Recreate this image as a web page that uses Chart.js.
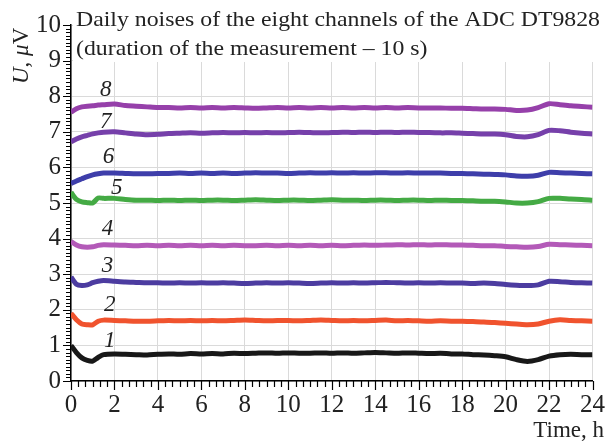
<!DOCTYPE html>
<html><head><meta charset="utf-8">
<script src="https://cdn.jsdelivr.net/npm/chart.js@4.4.1/dist/chart.umd.min.js"></script>
<style>html,body{margin:0;padding:0;background:#fff;overflow:hidden}#wrap{width:614px;height:441px;position:relative}</style>
</head><body><div id="wrap"><canvas id="c" width="614" height="441"></canvas></div>
<script>
// ---- data ----
const times = [0,0.25,0.5,0.75,1,1.25,1.5,2,2.5,3,3.5,4,4.5,5,5.5,6,6.5,7,7.5,8,8.5,9,9.5,10,10.5,11,11.5,12,12.5,13,13.5,14,14.5,15,15.5,16,16.5,17,17.5,18,18.5,19,19.5,20,20.5,21,21.5,22,22.5,23,23.5,24];
const ch1 = [1.00,0.80,0.65,0.58,0.56,0.66,0.74, 0.76,0.75,0.74,0.73,0.75, 0.76,0.75,0.77,0.76,0.77, 0.76,0.78,0.77,0.78,0.79, 0.78,0.79,0.78,0.78,0.79, 0.78,0.79,0.78,0.79,0.80, 0.79,0.78,0.79,0.78,0.77, 0.78,0.76,0.76,0.74,0.73, 0.71,0.68,0.60,0.55,0.60, 0.70,0.74,0.75,0.74,0.74];
const ch2 = [1.90,1.72,1.60,1.58,1.58,1.68,1.71, 1.70,1.69,1.68,1.68,1.69, 1.70,1.69,1.70,1.69,1.70, 1.69,1.70,1.71,1.70,1.69, 1.70,1.70,1.69,1.70,1.71, 1.70,1.69,1.70,1.69,1.70, 1.71,1.69,1.70,1.69,1.68, 1.69,1.68,1.68,1.67,1.66, 1.64,1.62,1.60,1.58,1.60, 1.68,1.72,1.70,1.69,1.68];
const ch3 = [2.92,2.72,2.68,2.70,2.76,2.80,2.82, 2.80,2.78,2.77,2.76,2.76, 2.75,2.76,2.75,2.76,2.75, 2.76,2.75,2.74,2.75,2.76, 2.75,2.76,2.75,2.74,2.75, 2.76,2.75,2.76,2.75,2.76, 2.77,2.76,2.75,2.76,2.75, 2.76,2.75,2.75,2.74,2.75, 2.74,2.71,2.69,2.68,2.70, 2.80,2.79,2.77,2.76,2.75];
const ch4 = [3.92,3.82,3.77,3.76,3.77,3.81,3.83, 3.82,3.81,3.80,3.81,3.80, 3.81,3.80,3.81,3.80,3.81, 3.80,3.81,3.80,3.80,3.81, 3.80,3.81,3.80,3.81,3.80, 3.81,3.80,3.81,3.82,3.81, 3.82,3.83,3.82,3.83,3.82, 3.83,3.82,3.82,3.81,3.80, 3.80,3.78,3.77,3.76,3.78, 3.84,3.83,3.82,3.81,3.80];
const ch5 = [5.30,5.10,5.03,5.01,5.00,5.14,5.13, 5.13,5.10,5.08,5.08,5.07, 5.08,5.07,5.08,5.07,5.08, 5.08,5.07,5.08,5.09,5.08, 5.07,5.08,5.08,5.07,5.08, 5.09,5.08,5.08,5.07,5.08, 5.08,5.07,5.08,5.08,5.07, 5.08,5.07,5.07,5.06,5.05, 5.05,5.03,5.00,5.00,5.04, 5.13,5.13,5.11,5.10,5.08];
const ch6 = [5.55,5.62,5.68,5.74,5.79,5.82,5.84, 5.84,5.83,5.82,5.82,5.83, 5.83,5.84,5.83,5.84,5.83, 5.84,5.83,5.84,5.85,5.84, 5.84,5.83,5.84,5.85,5.84, 5.85,5.84,5.85,5.84,5.85, 5.85,5.84,5.85,5.84,5.84, 5.84,5.83,5.83,5.82,5.81, 5.80,5.79,5.76,5.75,5.78, 5.86,5.85,5.84,5.83,5.82];
const ch7 = [6.72,6.80,6.86,6.90,6.94,6.97,6.99, 7.00,6.97,6.94,6.92,6.93, 6.95,6.96,6.97,6.96,6.97, 6.98,6.97,6.98,6.97,6.98, 6.97,6.98,6.99,6.98,6.97, 6.98,6.99,6.98,6.99,6.98, 6.99,6.98,6.99,6.98,6.98, 6.97,6.97,6.96,6.95,6.94, 6.94,6.92,6.87,6.86,6.92, 7.04,7.03,6.99,6.96,6.94];
const ch8 = [7.55,7.65,7.70,7.72,7.73,7.75,7.76, 7.78,7.74,7.72,7.70,7.68, 7.68,7.67,7.68,7.67,7.68, 7.67,7.68,7.67,7.66,7.67, 7.68,7.67,7.68,7.67,7.68, 7.67,7.68,7.67,7.68,7.67, 7.68,7.67,7.68,7.67,7.67, 7.67,7.66,7.66,7.65,7.64, 7.64,7.63,7.60,7.61,7.68, 7.79,7.76,7.73,7.71,7.69];
const channelNames = ['1','2','3','4','5','6','7','8'];
const nameX = [1.78,1.78,1.68,1.68,2.10,1.73,1.60,1.60];
const nameY = [1.12,2.13,3.22,4.26,5.41,6.28,7.27,8.17];
const xTickLabels = ['0','2','4','6','8','10','12','14','16','18','20','22','24'];
const yTickLabels = ['0','1','2','3','4','5','6','7','8','9','10'];
const titleLines = ['Daily noises of the eight channels of the ADC DT9828','(duration of the measurement \u2013 10 s)'];
const xTitle = 'Time, h';

// ---- styles ----
const series = [ch1,ch2,ch3,ch4,ch5,ch6,ch7,ch8];
const colors = ['#181818','#f0532e','#4c3ca0','#b35ab8','#44aa44','#3e3eaa','#7640aa','#9640aa'];
const SERIF = '"Times New Roman", "Liberation Serif", Tinos, Times, serif';

const datasets = series.map((s,i)=>({
  label: channelNames[i],
  data: times.map((t,k)=>({x:t,y:s[k]})),
  borderColor: colors[i],
  borderWidth: 5,
  pointRadius: 0,
  tension: 0.25,
  borderJoinStyle: 'round',
  fill: false
}));

const decor = {
  id: 'decor',
  afterDraw(chart){
    const ctx = chart.ctx, xs = chart.scales.x, ys = chart.scales.y;
    const L = chart.chartArea.left, B = chart.chartArea.bottom;
    ctx.save();
    // title box
    ctx.fillStyle = '#fff';
    ctx.fillRect(L+2, 0, chart.width-L-2, 62);
    // tick marks
    ctx.strokeStyle = '#000'; ctx.lineWidth = 1.2;
    ctx.beginPath();
    for(let k=0;k<=100;k++){
      const p = Math.round(ys.getPixelForValue(k/10))+0.5;
      const len = k%10===0 ? 8 : 5;
      ctx.moveTo(L-len,p); ctx.lineTo(L,p);
    }
    for(let k=0;k<=72;k++){
      const p = Math.round(xs.getPixelForValue(k/3))+0.5;
      const len = k%6===0 ? 9 : 6;
      ctx.moveTo(p,B); ctx.lineTo(p,B+len);
    }
    ctx.stroke();
    // series numbers
    ctx.fillStyle = '#222';
    ctx.font = 'italic 23px '+SERIF;
    ctx.textAlign = 'center'; ctx.textBaseline = 'middle';
    channelNames.forEach((n,i)=>{
      ctx.fillText(n, xs.getPixelForValue(nameX[i]), ys.getPixelForValue(nameY[i]));
    });
    // title
    ctx.font = '21px '+SERIF;
    ctx.textAlign = 'left'; ctx.textBaseline = 'alphabetic';
    const w0 = ctx.measureText(titleLines[0]).width;
    const sx = 524 / w0;
    titleLines.forEach((t,i)=>{
      ctx.save();
      ctx.translate(76, 26 + i*29);
      ctx.scale(sx,1);
      ctx.fillText(t,0,0);
      ctx.restore();
    });
    // x title
    ctx.font = '23px '+SERIF;
    ctx.textAlign = 'right';
    ctx.fillText(xTitle, 604, 437);
    // y title
    ctx.save();
    ctx.translate(28, 84);
    ctx.rotate(-Math.PI/2);
    ctx.textAlign = 'left';
    let x = 0;
    const parts = [['U','italic 23px '],[', ','23px '],['\u03bc','italic 23px '],['V','23px ']];
    parts.forEach(([t,f])=>{ ctx.font = f+SERIF; ctx.fillText(t,x,0); x += ctx.measureText(t).width; });
    ctx.restore();
    ctx.restore();
  }
};

new Chart(document.getElementById('c'), {
  type: 'line',
  data: { datasets },
  options: {
    responsive: false, animation: false, devicePixelRatio: 1,
    layout: { padding: { top: 15, right: 16, left: 0, bottom: 0 } },
    plugins: { legend: { display: false }, tooltip: { enabled: false }, title: { display: false } },
    scales: {
      x: {
        type: 'linear', min: 0, max: 24,
        afterBuildTicks: s => { s.ticks = xTickLabels.map(v=>({value:Number(v)})); },
        afterFit: s => { s.height = 60; },
        ticks: { callback: v => xTickLabels[xTickLabels.indexOf(String(v))], color: '#222', font: { family: SERIF, size: 25 }, padding: 9, maxRotation: 0, autoSkip: false },
        grid: { color: '#dadada', lineWidth: 1, drawTicks: false },
        border: { display: true, color: '#000', width: 1.5 }
      },
      y: {
        type: 'linear', min: 0, max: 10,
        afterBuildTicks: s => { s.ticks = yTickLabels.map(v=>({value:Number(v)})); },
        afterFit: s => { s.width = 71; },
        ticks: { callback: v => yTickLabels[yTickLabels.indexOf(String(v))], color: '#222', font: { family: SERIF, size: 25 }, padding: 10 },
        grid: { color: '#dadada', lineWidth: 1, drawTicks: false },
        border: { display: true, color: '#000', width: 1.5 }
      }
    }
  },
  plugins: [decor]
});
</script></body></html>
